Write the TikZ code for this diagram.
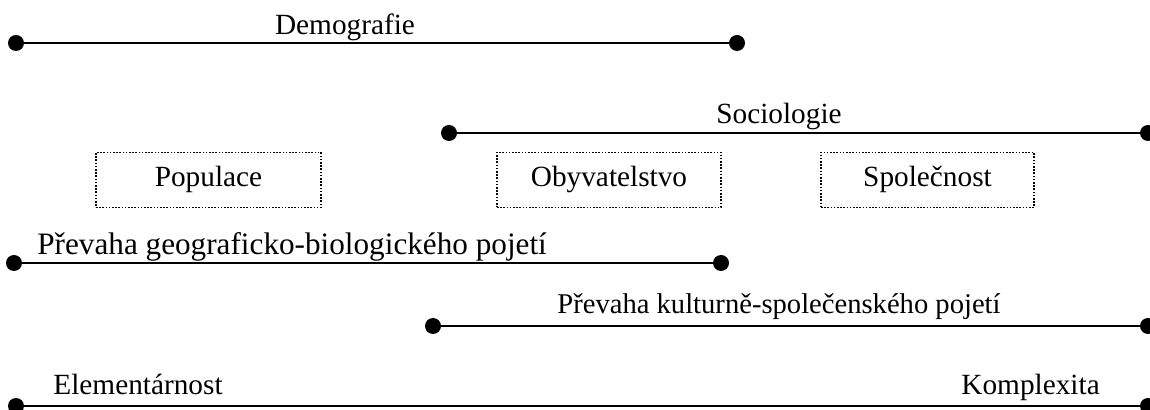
\documentclass[tikz,border=0pt]{standalone}
\usepackage{fontspec}
\setmainfont{Liberation Serif}
\usetikzlibrary{arrows.meta}

\begin{document}
\begin{tikzpicture}[x=0.5pt, y=-0.5pt, font=\fontsize{14.65}{17}\selectfont,
	dot/.style={fill=black, draw=none, shape=circle, inner sep=0pt, minimum size=8pt},
	box/.style={draw=black, line width=0.8pt, dash pattern=on 0.8pt off 0.8pt, shape=rectangle, inner sep=0pt, minimum height=27.5pt, text height=0.9em, text depth=0.2em},
	lbl/.style={inner sep=0pt, anchor=base},
	bar/.style={line width=1.2pt}]
	\useasboundingbox (0,0) rectangle (1150,410);
	\node [dot] (0) at (16, 43) {};
	\node [dot] (1) at (737, 43) {};
	\node [lbl] (2) at (345, 35) {Demografie};
	\node [dot] (3) at (449, 133) {};
	\node [dot] (4) at (1148, 133) {};
	\node [lbl] (5) at (779, 124) {Sociologie};
	\node [box, minimum width=112.5pt] (6) at (208.5, 180) {Populace};
	\node [box, minimum width=112pt] (7) at (609, 180) {Obyvatelstvo};
	\node [box, minimum width=106.5pt] (8) at (927.5, 180) {Společnost};
	\node [dot] (9) at (14, 263) {};
	\node [dot] (10) at (721, 263) {};
	\node [lbl, anchor=base west, font=\fontsize{15.6}{18}\selectfont] (11) at (37, 255) {Převaha geograficko-biologického pojetí};
	\node [dot] (12) at (433, 326) {};
	\node [dot] (13) at (1148, 326) {};
	\node [lbl, anchor=base west, font=\fontsize{14.3}{17}\selectfont] (14) at (557, 314) {Převaha kulturně-společenského pojetí};
	\node [dot] (15) at (16, 406) {};
	\node [dot] (16) at (1148, 406) {};
	\node [lbl, anchor=base west] (17) at (53, 395) {Elementárnost};
	\node [lbl, anchor=base west] (18) at (961, 395) {Komplexita};
	\draw [bar] (0) to (1);
	\draw [bar] (3) to (4);
	\draw [bar] (9) to (10);
	\draw [bar] (12) to (13);
	\draw [bar] (15) to (16);
\end{tikzpicture}
\end{document}
